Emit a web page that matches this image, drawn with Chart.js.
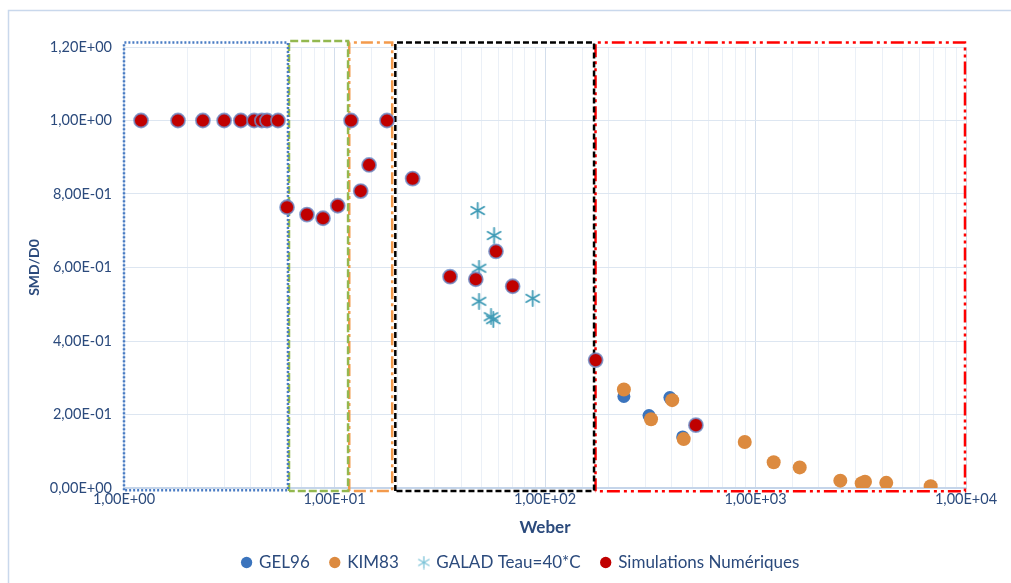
<!DOCTYPE html>
<html><head><meta charset="utf-8">
<script src="https://cdn.jsdelivr.net/npm/chart.js@4/dist/chart.umd.min.js"></script>
<style>html,body{margin:0;padding:0;background:#fff;}#wrap{width:1011px;height:583px;position:relative;}</style>
</head><body><div id="wrap"><canvas id="c" width="1011" height="583"></canvas></div>
<script>
// ---- data ----
const gelX = [237, 392, 312, 451];
const gelY = [0.249, 0.246, 0.197, 0.139];
const kimX = [237, 402, 319, 456, 889, 1220, 1622, 2529, 3195, 3312, 4180, 6795];
const kimY = [0.268, 0.239, 0.187, 0.133, 0.125, 0.070, 0.056, 0.020, 0.013, 0.017, 0.014, 0.005];
const galadX = [47.9, 57.3, 48.6, 48.6, 55.4, 56.8, 87.4];
const galadY = [0.755, 0.687, 0.598, 0.508, 0.466, 0.458, 0.516];
const simX = [1.205, 1.805, 2.37, 2.99, 3.59, 4.15, 4.52, 4.78, 5.39, 11.98, 17.76,
              5.95, 7.40, 8.82, 10.36, 13.32, 14.6, 23.5, 35.4, 46.9, 58.5, 70.2, 174, 521];
const simY = [1, 1, 1, 1, 1, 1, 1, 1, 1, 1, 1,
              0.764, 0.744, 0.734, 0.768, 0.808, 0.879, 0.842, 0.575, 0.568, 0.644, 0.549, 0.348, 0.171];
const xTicks = [1, 10, 100, 1000, 10000];
const yTicks = [0, 0.2, 0.4, 0.6, 0.8, 1.0, 1.2];
// zone rectangles [xmin, xmax, ymin, ymax]
const zoneBlue = [1, 6.01, -0.006, 1.212];
const zoneGreen = [6.08, 11.6, -0.008, 1.216];
const zoneOrange = [11.75, 18.8, -0.008, 1.212];
const zoneBlack = [19.45, 171, -0.008, 1.212];
const zoneRed = [173.8, 9890, -0.009, 1.212];

function pts(xs, ys){ return xs.map((x,i)=>({x:x, y:ys[i]})); }
function rect(z){ return [{x:z[0],y:z[2]},{x:z[0],y:z[3]},{x:z[1],y:z[3]},{x:z[1],y:z[2]},{x:z[0],y:z[2]}]; }
function sci(v){
  if (Math.abs(v) < 1e-12) return '0,00E+00';
  let e = Math.floor(Math.log10(Math.abs(v)) + 1e-9);
  let m = v / Math.pow(10, e);
  let s = m.toFixed(2).replace('.', ',');
  let es = (e < 0 ? '-' : '+') + String(Math.abs(e)).padStart(2, '0');
  return s + 'E' + es;
}
// asterisk marker
function makeStar(size, color, lw){
  const c = document.createElement('canvas'); c.width = size; c.height = size;
  const g = c.getContext('2d'); g.strokeStyle = color; g.lineWidth = lw; g.lineCap='round';
  const r = size/2 - 1, cx = size/2, cy = size/2;
  [90, 30, 150].forEach(a => {
    const t = a*Math.PI/180;
    g.beginPath(); g.moveTo(cx - r*Math.cos(t), cy - r*Math.sin(t)); g.lineTo(cx + r*Math.cos(t), cy + r*Math.sin(t)); g.stroke();
  });
  return c;
}
const starImg = makeStar(17, '#3f9bb6', 1.8);
const starLegend = makeStar(14, '#7cc3d8', 1.3);

const frame = {
  id: 'frame',
  beforeDraw(chart){
    const ctx = chart.ctx; ctx.save();
    ctx.strokeStyle = '#c9d8ec'; ctx.lineWidth = 1.5;
    ctx.strokeRect(8.5, 10.5, 1200, 800);
    ctx.restore();
  }
};
const legendShift = {
  id: 'legendShift',
  afterLayout(chart){
    const lg = chart.legend; if (!lg) return;
    lg.left += 34; lg.right += 34;
    lg.top -= 2; lg.bottom -= 2;
  }
};

const boxDs = (z, color, dash, w) => ({
  label: '_zone', data: rect(z), showLine: true, borderColor: color, borderWidth: w,
  borderDash: dash, pointRadius: 0, pointHoverRadius: 0, fill: false, tension: 0, clip: false, order: 5
});

const fontFam = 'Lato, "Open Sans", sans-serif';
const txt = '#2b4a7c';

new Chart(document.getElementById('c'), {
  type: 'scatter',
  data: {
    datasets: [
      {label: 'GEL96', data: pts(gelX, gelY), backgroundColor: '#3b74bd', borderColor: '#3b74bd', pointRadius: 6.5, borderWidth: 0, order: 4},
      {label: 'KIM83', data: pts(kimX, kimY), backgroundColor: '#dc8a3f', borderColor: '#dc8a3f', pointRadius: 7, borderWidth: 0, order: 3},
      {label: 'GALAD Teau=40*C', data: pts(galadX, galadY), pointStyle: starImg, backgroundColor: '#3f9bb6', borderColor: '#3f9bb6', order: 2},
      {label: 'Simulations Numériques', data: pts(simX, simY), backgroundColor: '#c00000', borderColor: 'rgba(110,140,200,0.8)', pointRadius: 7, borderWidth: 1.8, order: 1},
      boxDs(zoneBlue, '#4a7cc4', [2, 2], 2.5),
      boxDs(zoneGreen, '#93b84f', [8, 3], 2.5),
      boxDs(zoneOrange, '#f39a4c', [12, 4, 3, 4], 2.5),
      boxDs(zoneBlack, '#000000', [6, 3], 2.5),
      boxDs(zoneRed, '#ff0000', [13, 4, 3, 4, 3, 4], 2.5)
    ]
  },
  options: {
    responsive: false, animation: false, devicePixelRatio: 1,
    layout: {padding: {left: 8, right: 45, top: 47, bottom: 0}},
    plugins: {
      tooltip: {enabled: false},
      legend: {
        position: 'bottom',
        labels: {
          usePointStyle: true, boxWidth: 8, boxHeight: 8, padding: 21,
          color: txt, font: {family: fontFam, size: 17},
          sort: (a, b) => a.datasetIndex - b.datasetIndex,
          filter: (item) => item.text !== '_zone',
          generateLabels: (chart) => {
            const base = Chart.defaults.plugins.legend.labels.generateLabels(chart);
            base.forEach(l => { if (l.text === 'GALAD Teau=40*C') l.pointStyle = starLegend; l.lineWidth = 0; });
            return base;
          }
        }
      }
    },
    scales: {
      x: {
        type: 'logarithmic', min: 1, max: 10000,
        afterFit: (s) => { s.height = 47; },
        border: {color: '#c5d5ea', width: 2},
        grid: {drawTicks: false, color: (ctx) => {
          const v = ctx.tick ? ctx.tick.value : 0;
          return xTicks.some(t => Math.abs(t - v) < 1e-6) ? '#d3deec' : '#ebf0f7';
        }},
        ticks: {
          autoSkip: false, maxRotation: 0, padding: 3, color: txt, font: {family: fontFam, size: 14.5},
          callback: (v) => xTicks.some(t => Math.abs(t - v) < 1e-6) ? sci(v) : ''
        },
        title: {display: true, text: 'Weber', color: '#2b4a7c', font: {family: fontFam, size: 17, weight: 'bold'}, padding: {top: 4, bottom: -3}}
      },
      y: {
        min: 0, max: 1.2,
        afterFit: (s) => { s.width = 116; },
        afterBuildTicks: (s) => { s.ticks = yTicks.map(v => ({value: v})); },
        border: {color: '#c5d5ea', width: 1.5},
        grid: {drawTicks: false, color: '#dde6f1'},
        ticks: {padding: 12, color: txt, font: {family: fontFam, size: 14.5}, callback: (v) => sci(v)},
        title: {display: true, text: 'SMD/D0', color: '#2b4a7c', font: {family: fontFam, size: 14, weight: 'bold'}, padding: {top: 18, bottom: 0}}
      }
    }
  },
  plugins: [frame, legendShift]
});
</script></body></html>
